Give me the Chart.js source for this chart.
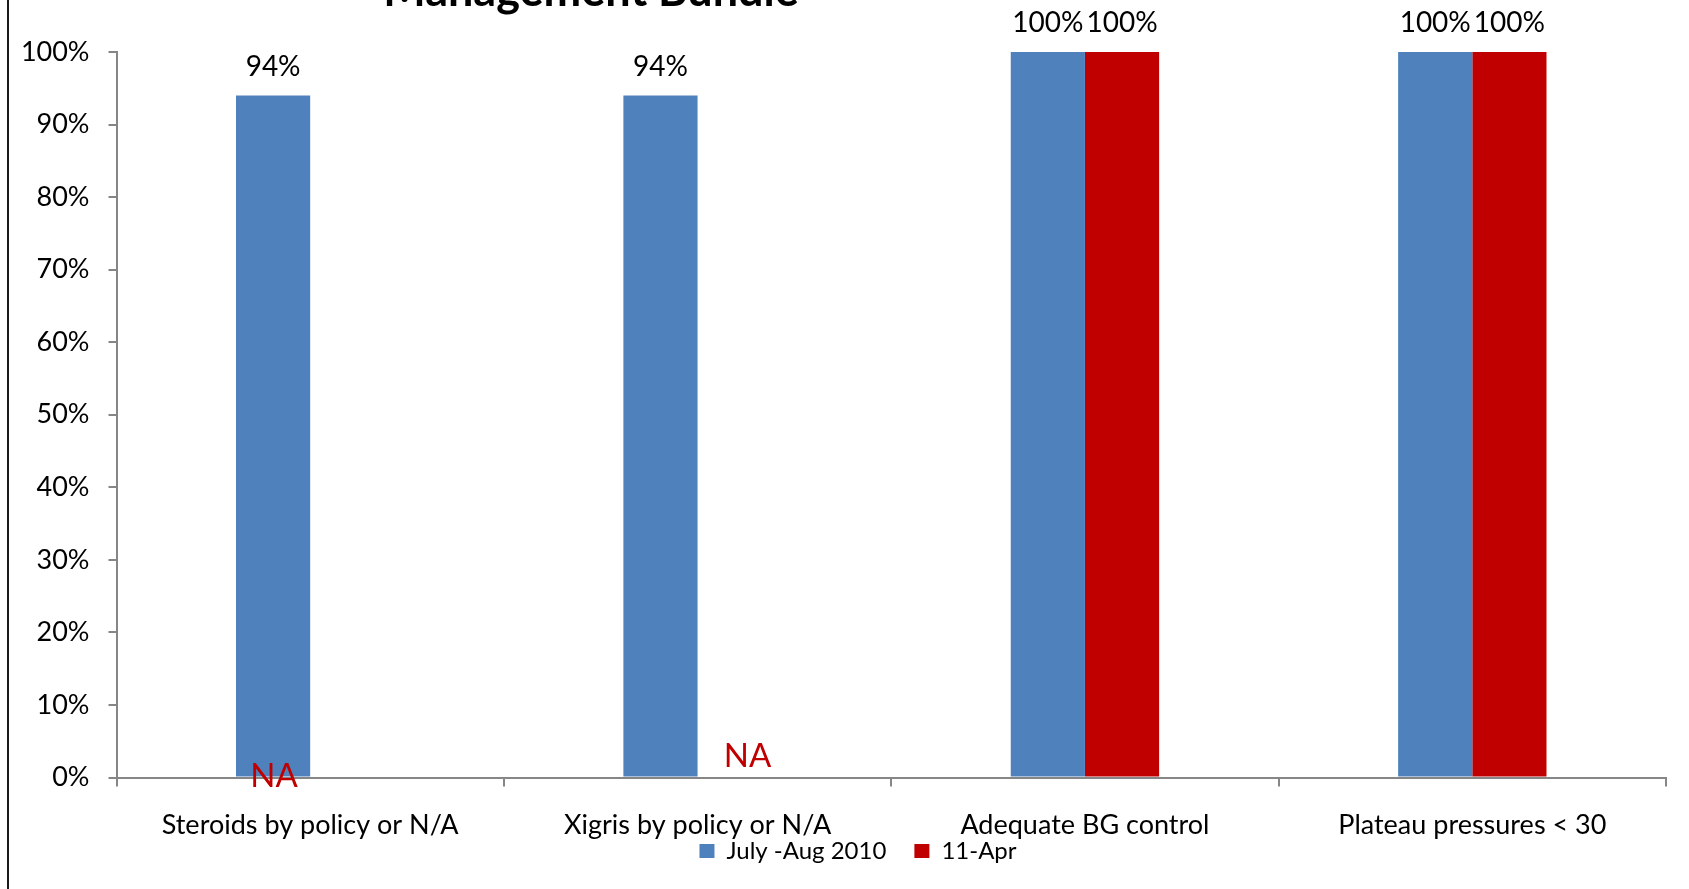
<!DOCTYPE html>
<html>
<head>
<meta charset="utf-8">
<title>Management Bundle</title>
<script src="https://cdn.jsdelivr.net/npm/chart.js@4/dist/chart.umd.min.js"></script>
<style>
  html, body { margin: 0; padding: 0; background: #ffffff; }
  #wrap { width: 1689px; height: 889px; }
</style>
</head>
<body>
<div id="wrap"><canvas id="c" width="1689" height="889"></canvas></div>
<script>
// Bundle elements and compliance (%) for each period
const categories = ['Steroids by policy or N/A', 'Xigris by policy or N/A', 'Adequate BG control', 'Plateau pressures < 30'];
const seriesNames = ['July -Aug 2010', '11-Apr'];
const julyAug2010 = [94, 94, 100, 100];
const apr11 = [null, null, 100, 100];
const yTickValues = [0, 10, 20, 30, 40, 50, 60, 70, 80, 90, 100];
const chartTitle = 'Management Bundle';
const missingText = 'NA';

const FONT = "Lato, 'Open Sans', sans-serif";
const BLUE = '#4F81BD';
const RED = '#C00000';
const AXIS = '#868686';
const PAD_LEFT = 50;
const PAD_BOTTOM = 16;
const PLOT_LEFT = 116.5;
const PLOT_BOTTOM = 777.5;

// frame line on the left edge and white background
const framePlugin = {
  id: 'frame',
  beforeDraw(chart) {
    const { ctx, width, height } = chart;
    ctx.save();
    ctx.fillStyle = '#ffffff';
    ctx.fillRect(0, 0, width, height);
    ctx.fillStyle = '#1a1a1a';
    ctx.fillRect(7, 0, 2, height);
    ctx.restore();
  }
};

// let axis labels use the full canvas strip beside/below their axis
const labelRoomPlugin = {
  id: 'labelRoom',
  afterLayout(chart) {
    chart.scales.y.left = 0;
    chart.scales.x.bottom = chart.height;
  }
};

// title line, partly above the top edge
const titlePlugin = {
  id: 'bundleTitle',
  afterDraw(chart) {
    const { ctx } = chart;
    ctx.save();
    ctx.font = 'bold 45px ' + FONT;
    ctx.fillStyle = '#000000';
    ctx.textAlign = 'center';
    ctx.textBaseline = 'alphabetic';
    ctx.fillText(chartTitle, 591, 6);
    ctx.restore();
  }
};

// value labels above bars, and "NA" where a period has no value
const valueLabelPlugin = {
  id: 'valueLabels',
  afterDatasetsDraw(chart) {
    const { ctx } = chart;
    const y = chart.scales.y;
    ctx.save();
    ctx.textAlign = 'center';
    ctx.textBaseline = 'alphabetic';
    chart.data.datasets.forEach((ds, di) => {
      const meta = chart.getDatasetMeta(di);
      ds.data.forEach((v, i) => {
        const bar = meta.data[i];
        if (v !== null && v !== undefined) {
          ctx.font = '28px ' + FONT;
          ctx.fillStyle = '#000000';
          ctx.fillText(v + '%', bar.x, bar.y - 20);
        }
      });
    });
    // NA markers for the missing second-period values
    const blueMeta = chart.getDatasetMeta(0);
    const naPlacement = [{ dx: 1, dy: 9 }, { dx: 87, dy: -11 }];
    ctx.font = '33px ' + FONT;
    ctx.fillStyle = RED;
    let k = 0;
    apr11.forEach((v, i) => {
      if (v === null) {
        const p = naPlacement[k++] || { dx: 74, dy: 0 };
        const bx = blueMeta.data[i].x;
        ctx.fillText(missingText, bx + p.dx, y.getPixelForValue(0) + p.dy);
      }
    });
    ctx.restore();
  }
};

function draw() {
  const ctx = document.getElementById('c').getContext('2d');
  new Chart(ctx, {
    type: 'bar',
    data: {
      labels: categories,
      datasets: [
        { label: seriesNames[0], data: julyAug2010, backgroundColor: BLUE, borderWidth: 0 },
        { label: seriesNames[1], data: apr11, backgroundColor: RED, borderWidth: 0 }
      ]
    },
    options: {
      responsive: false,
      animation: false,
      devicePixelRatio: 1,
      datasets: { bar: { categoryPercentage: 0.383, barPercentage: 1.0 } },
      layout: { padding: { left: PAD_LEFT, right: 23, top: 52, bottom: PAD_BOTTOM } },
      plugins: {
        title: { display: false },
        tooltip: { enabled: false },
        legend: {
          display: true,
          position: 'bottom',
          labels: {
            font: { family: FONT, size: 24 },
            color: '#000000',
            boxWidth: 15,
            boxHeight: 14,
            padding: 28
          }
        }
      },
      scales: {
        x: {
          offset: true,
          grid: { display: true, offset: true, drawOnChartArea: false, drawTicks: true, tickLength: 9, color: AXIS, lineWidth: 2 },
          border: { display: true, color: AXIS, width: 2 },
          ticks: { font: { family: FONT, size: 27 }, color: '#000000', padding: 23, maxRotation: 0, autoSkip: false },
          afterFit(scale) {
            const c = scale.chart;
            const legendH = c.legend ? c.legend.height : 0;
            scale.height = c.height - PAD_BOTTOM - legendH - PLOT_BOTTOM;
          }
        },
        y: {
          min: 0,
          max: 100,
          afterBuildTicks(scale) {
            scale.ticks = yTickValues.map(v => ({ value: v }));
          },
          grid: { display: true, drawOnChartArea: false, drawTicks: true, tickLength: 8, color: AXIS, lineWidth: 2 },
          border: { display: true, color: AXIS, width: 2 },
          ticks: {
            font: { family: FONT, size: 27 },
            color: '#000000',
            padding: 19,
            callback: v => v + '%'
          },
          afterFit(scale) { scale.width = PLOT_LEFT - PAD_LEFT; }
        }
      }
    },
    plugins: [framePlugin, labelRoomPlugin, valueLabelPlugin, titlePlugin]
  });
}

if (document.fonts && document.fonts.load) {
  Promise.all([document.fonts.load('27px Lato'), document.fonts.load('bold 45px Lato')]).then(draw, draw);
} else {
  draw();
}
</script>
</body>
</html>
